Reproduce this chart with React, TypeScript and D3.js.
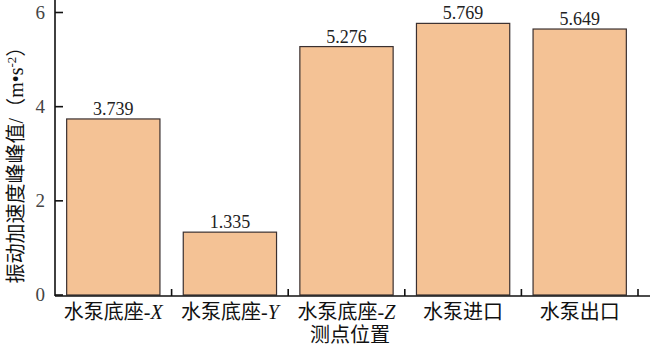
import React from "react";
import * as d3 from "d3";

const categories = ["水泵底座-X", "水泵底座-Y", "水泵底座-Z", "水泵进口", "水泵出口"];
const catPrefix = ["水泵底座-", "水泵底座-", "水泵底座-", "水泵进口", "水泵出口"];
const catItalic = ["X", "Y", "Z", "", ""];
const values = [3.739, 1.335, 5.276, 5.769, 5.649];
const valueLabels = ["3.739", "1.335", "5.276", "5.769", "5.649"];
const yTicks = [0, 2, 4, 6];

const W = 650, H = 346;
const left = 55, right = 638, zeroY = 295, topY = 12.5;

export default function App() {
  const x = d3.scaleBand<string>().domain(categories).range([left, right]).paddingInner(0.2).paddingOuter(0.1);
  const y = d3.scaleLinear().domain([0, 6]).range([zeroY, topY]);
  const serif = "'Liberation Serif', 'Times New Roman', serif";
  const cjk = "'Liberation Serif', 'Noto Sans CJK SC', serif";
  const boundaries = categories.map((c) => (x(c) as number) + x.bandwidth() + x.step() * 0.1);
  return (
    <svg width={W} height={H} style={{ position: "absolute", left: 0, top: 0, background: "#fff" }}>
      {categories.map((c, i) => (
        <rect key={c} x={x(c)} y={y(values[i])} width={x.bandwidth()} height={zeroY - y(values[i])}
          fill="#F4C295" stroke="#3a3030" strokeWidth={1.2} />
      ))}
      {categories.map((c, i) => (
        <text key={"v" + c} x={(x(c) as number) + x.bandwidth() / 2} y={y(values[i]) - 4}
          textAnchor="middle" fontFamily={serif} fontSize={18} fill="#222">{valueLabels[i]}</text>
      ))}
      {/* y axis */}
      <line x1={left} x2={left} y1={0} y2={zeroY + 1} stroke="#111" strokeWidth={1.6} />
      {yTicks.map((t) => (
        <g key={t}>
          <line x1={left} x2={left + 8} y1={y(t)} y2={y(t)} stroke="#111" strokeWidth={1.6} />
          <text x={45} y={y(t) + 6} textAnchor="end" fontFamily={serif} fontSize={19} fill="#444">{t}</text>
        </g>
      ))}
      {/* x axis */}
      <line x1={left} x2={W} y1={zeroY + 1} y2={zeroY + 1} stroke="#111" strokeWidth={1.6} />
      {boundaries.map((b, i) => (
        <line key={i} x1={b} x2={b} y1={zeroY + 1} y2={zeroY - 6} stroke="#111" strokeWidth={1.6} />
      ))}
      {categories.map((c, i) => (
        <text key={"c" + c} x={(x(c) as number) + x.bandwidth() / 2} y={319} textAnchor="middle"
          fontFamily={cjk} fontSize={20} fill="#111">
          {catPrefix[i]}
          {catItalic[i] && <tspan fontStyle="italic" fontFamily={serif}>{catItalic[i]}</tspan>}
        </text>
      ))}
      <text x={350} y={342} textAnchor="middle" fontFamily={cjk} fontSize={20} fill="#111">测点位置</text>
      <text transform={`translate(23,160) rotate(-90)`} textAnchor="middle" fontFamily={cjk} fontSize={20} fill="#111">
        振动加速度峰峰值/（m•s<tspan dy={-7} fontSize={13}>-2</tspan><tspan dy={7}>）</tspan>
      </text>
    </svg>
  );
}
